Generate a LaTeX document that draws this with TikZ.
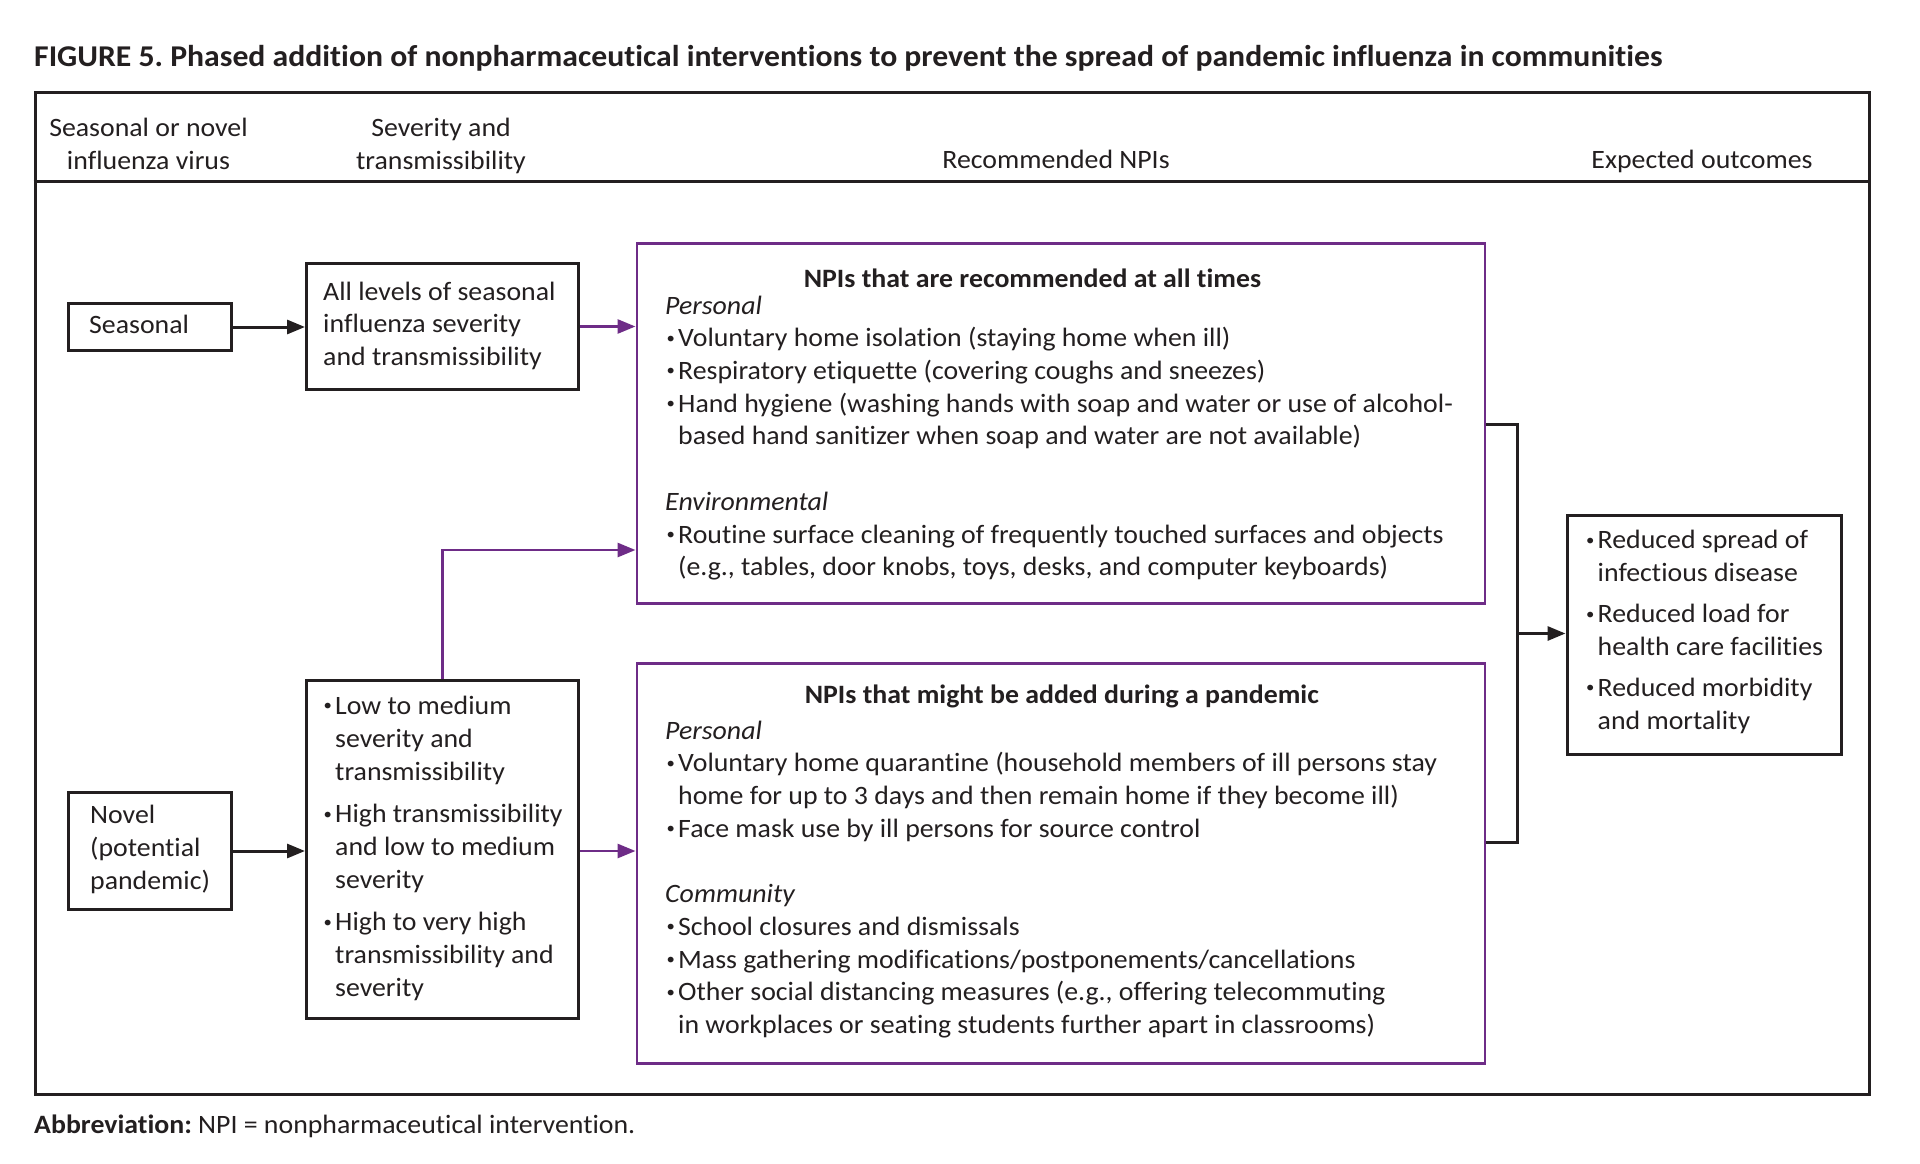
\documentclass[tikz,border=0pt]{standalone}
\usepackage{fontspec}
\setmainfont{Carlito}[FakeStretch=1.05,Ligatures=NoCommon]
\usetikzlibrary{arrows.meta}
\definecolor{npurple}{RGB}{110,44,135}
\definecolor{ink}{RGB}{35,31,32}
\newcommand{\mybul}{\makebox[13pt][l]{\hspace{1.5pt}\raisebox{0.14em}{\scalebox{0.6}{•}}}}
\newcommand{\myhang}{\hspace*{13pt}}
\frenchspacing
\begin{document}
\begin{tikzpicture}[x=1pt,y=-1pt,
  bx/.style={draw=ink,line width=3pt,inner sep=0pt,anchor=north west},
  pbx/.style={draw=npurple,line width=2.8pt,inner sep=0pt,anchor=north west},
  body/.style={inner sep=0pt,text=ink,font=\fontsize{26.5}{32.7}\selectfont},
  txt/.style={body,anchor=north west,align=left},
  hdr/.style={body,anchor=north,align=center},
  ttl/.style={inner sep=0pt,text=ink,anchor=base,font=\fontsize{26.5}{32.7}\selectfont\bfseries},
  arr/.style={draw=ink,line width=3pt,-{Triangle[length=18pt,width=14pt]}},
  parr/.style={draw=npurple,line width=2.8pt,-{Triangle[length=18pt,width=14pt]}},
  ln/.style={draw=ink,line width=3pt}]
\useasboundingbox (0,0) rectangle (1920,1164);
\fill[white] (0,0) rectangle (1920,1164);

% caption
\node[inner sep=0pt,anchor=base west,text=ink,font=\fontsize{30.2}{37}\selectfont\bfseries] (cap) at (34,66.5)
  {FIGURE 5. Phased addition of nonpharmaceutical interventions to prevent the spread of pandemic influenza in communities};

% frame
\node[bx,minimum width=1834.5pt,minimum height=1002.5pt] (frame) at (33.5,90.5) {};
\coordinate (hl) at (33.5,181);
\coordinate (hr) at (1868,181);
\draw[ln] (hl) -- (hr);

% headers
\node[hdr] (h1) at (148.5,113.6) {\strut Seasonal or novel\\influenza virus};
\node[hdr] (h2) at (441,113.6) {\strut Severity and\\transmissibility};
\node[body,anchor=base] (h3) at (1056,168.5) {Recommended NPIs};
\node[body,anchor=base] (h4) at (1702,168.5) {Expected outcomes};

% boxes
\node[bx,minimum width=163pt,minimum height=47pt] (seas) at (67,302) {};
\node[bx,minimum width=272pt,minimum height=126pt] (all) at (305,262) {};
\node[pbx,minimum width=848pt,minimum height=360pt] (npi1) at (635.5,242) {};
\node[pbx,minimum width=848pt,minimum height=400pt] (npi2) at (635.5,662) {};
\node[bx,minimum width=272pt,minimum height=338pt] (low) at (305,679) {};
\node[bx,minimum width=162.5pt,minimum height=117pt] (novel) at (67,791) {};
\node[bx,minimum width=274.5pt,minimum height=239pt] (outc) at (1565.5,514) {};

% box texts
\node[body,anchor=base west] (seast) at (89,333) {Seasonal};
\node[txt] (allt) at (323,277.1) {\strut All levels of seasonal\\influenza severity\\and transmissibility};

\node[ttl] (npi1h) at (1032.5,287) {NPIs that are recommended at all times};
\node[txt] (npi1t) at (665,291.1) {\strut\textit{Personal}\\
\mybul Voluntary home isolation (staying home when ill)\\
\mybul Respiratory etiquette (covering coughs and sneezes)\\
\mybul Hand hygiene (washing hands with soap and water or use of alcohol-\\
\myhang based hand sanitizer when soap and water are not available)\\[32.7pt]
\textit{Environmental}\\
\mybul Routine surface cleaning of frequently touched surfaces and objects\\
\myhang (e.g., tables, door knobs, toys, desks, and computer keyboards)};

\node[ttl] (npi2h) at (1061.8,703.5) {NPIs that might be added during a pandemic};
\node[txt] (npi2t) at (665,716.1) {\strut\textit{Personal}\\
\mybul Voluntary home quarantine (household members of ill persons stay\\
\myhang home for up to 3 days and then remain home if they become ill)\\
\mybul Face mask use by ill persons for source control\\[32.7pt]
\textit{Community}\\
\mybul School closures and dismissals\\
\mybul Mass gathering modifications/postponements/cancellations\\
\mybul Other social distancing measures (e.g., offering telecommuting\\
\myhang in workplaces or seating students further apart in classrooms)};

\node[txt] (lowt) at (322,691.6) {\strut\mybul Low to medium\\
\myhang severity and\\
\myhang transmissibility\\[10pt]
\mybul High transmissibility\\
\myhang and low to medium\\
\myhang severity\\[10pt]
\mybul High to very high\\
\myhang transmissibility and\\
\myhang severity};

\node[txt] (novelt) at (90,800.6) {\strut Novel\\(potential\\pandemic)};

\node[txt] (outct) at (1584.5,525.8) {\strut\mybul Reduced spread of\\
\myhang infectious disease\\[8.5pt]
\mybul Reduced load for\\
\myhang health care facilities\\[8.5pt]
\mybul Reduced morbidity\\
\myhang and mortality};

% abbreviation
\node[body,anchor=base west] (abbr) at (34,1133) {\textbf{Abbreviation:} NPI = nonpharmaceutical intervention.};

% connectors
\draw[arr] (seas.east) -- (all.west |- seas.east);
\draw[parr] (all.east) -- (npi1.west |- all.east);
\draw[arr] (novel.east) -- (low.west |- novel.east);
\draw[parr] (low.east |- novel.east) -- (npi2.west |- novel.east);
\coordinate (jn) at (441,550);
\draw[parr] (low.north) -- (low.north |- jn) -- (npi1.west |- jn);
\coordinate (b1) at (1517,424);
\coordinate (b2) at (1517,842);
\coordinate (bm) at (1517,633.5);
\draw[ln] (npi1.east |- b1) -- (b1) -- (b2) -- (npi2.east |- b2);
\draw[arr] (bm) -- (outc.west |- bm);
\end{tikzpicture}
\end{document}
